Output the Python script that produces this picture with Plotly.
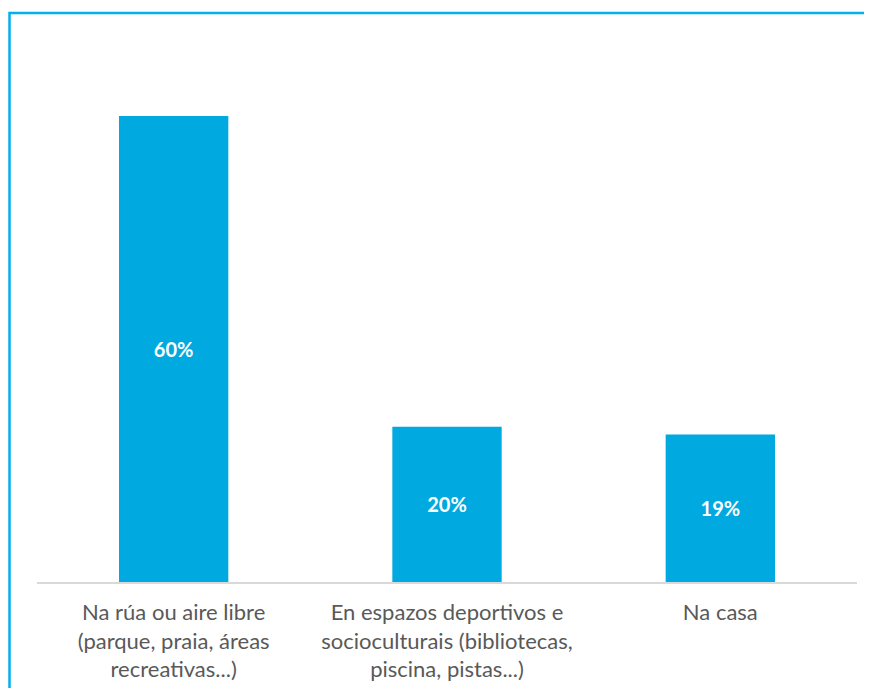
import plotly.graph_objects as go

categories = [
    "Na rúa ou aire libre<br>(parque, praia, áreas<br>recreativas...)",
    "En espazos deportivos e<br>socioculturais (bibliotecas,<br>piscina, pistas...)",
    "Na casa",
]
values = [60, 20, 19]
labels = ["60%", "20%", "19%"]

BAR = "#00A9E0"
BORDER = "#00B0F0"

# page body has an 8px margin; figure coords = screen coords - 8
W, H = 856, 680
L, R, T, B = 29, 7, 52, 106
PW = W - L - R
PH = H - T - B

bx = (1.5 - L) / PW          # left border position (paper)
by = (T + PH - 5) / PH       # top border position (paper)
ex = (W - L) / PW            # figure right edge (paper)

fig = go.Figure()
fig.add_trace(go.Bar(
    x=categories,
    y=values,
    text=labels,
    textposition="inside",
    insidetextanchor="middle",
    textangle=0,
    textfont=dict(family="Lato", size=20, color="white", weight="bold"),
    marker=dict(color=BAR, line=dict(width=0)),
    hoverinfo="skip",
))

fig.update_layout(
    width=W,
    height=H,
    margin=dict(l=L, r=R, t=T, b=B),
    paper_bgcolor="white",
    plot_bgcolor="white",
    bargap=0.6,
    showlegend=False,
    xaxis=dict(
        showgrid=False,
        showline=True,
        linecolor="#D9D9D9",
        linewidth=1.5,
        ticks="",
        tickfont=dict(family="Lato", size=22, color="#595959"),
        tickangle=0,
        ticklabelstandoff=10,
        automargin=False,
    ),
    yaxis=dict(
        range=[0, 67.2],
        visible=False,
        showgrid=False,
        zeroline=False,
    ),
    shapes=[
        dict(type="path", xref="paper", yref="paper",
             path=f"M {ex},{by} L {bx},{by} L {bx},{-B / PH}",
             line=dict(color=BORDER, width=2.5)),
    ],
)

fig.write_html("out.html")
